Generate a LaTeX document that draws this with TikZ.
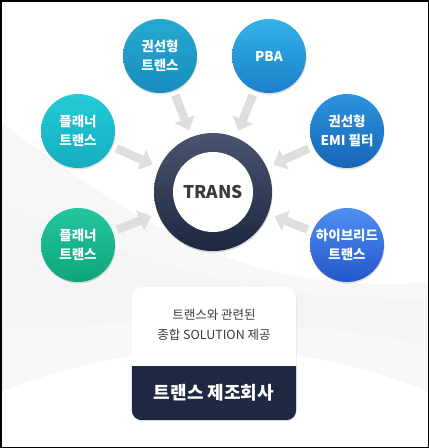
\documentclass[tikz,border=0pt]{standalone}
\usepackage{fontspec}
\setmainfont{Noto Sans CJK KR}
\usetikzlibrary{arrows.meta,shadows}

\definecolor{ringtop}{HTML}{4A5470}
\definecolor{ringbot}{HTML}{1E2740}
\definecolor{navy}{HTML}{1E2842}
\definecolor{textgray}{HTML}{3A3A3A}

\tikzstyle{ball} = [circle, minimum size=74pt, inner sep=0pt, text=white,
    align=center, font=\bfseries\fontsize{13.5}{19}\selectfont,
    drop shadow={opacity=0.25, shadow xshift=0.6pt, shadow yshift=-1.6pt}]
\tikzstyle{feed} = [draw=black!13, line width=8.5pt,
    -{Triangle[length=12pt,width=21pt]}, shorten <=5pt, shorten >=7pt]

\begin{document}
\begin{tikzpicture}[x=1pt,y=-1pt]
  \useasboundingbox (0,0) rectangle (429,448);

  % background swooshes
  \fill[black!3] (0,122) .. controls (110,200) and (230,300) .. (429,282)
      -- (429,392) .. controls (300,340) and (160,330) .. (0,392) -- cycle;
  \fill[black!4] (0,200) .. controls (120,260) and (260,300) .. (429,300)
      -- (429,345) .. controls (280,315) and (150,320) .. (0,330) -- cycle;

  % center ring
  \node[circle, minimum size=118pt, inner sep=0pt, top color=ringtop, bottom color=ringbot,
        drop shadow={opacity=0.3, shadow xshift=0.6pt, shadow yshift=-1.6pt}]
        (ring) at (213,192) {};
  \node[circle, fill=white, minimum size=80pt, inner sep=0pt, text=textgray,
        font=\bfseries\fontsize{17.5}{20}\selectfont] (trans) at (213,192) {TRANS};

  % outer items
  \node[ball, top color={rgb,255:red,37;green,169;blue,207}, bottom color={rgb,255:red,26;green,141;blue,191}]
        (coil)    at (160,56)  {권선형\\트랜스};
  \node[ball, top color={rgb,255:red,51;green,179;blue,232}, bottom color={rgb,255:red,28;green,127;blue,203}]
        (pba)     at (269,56)  {PBA};
  \node[ball, top color={rgb,255:red,34;green,203;blue,214}, bottom color={rgb,255:red,20;green,173;blue,192}]
        (planarA) at (78,131)  {플래너\\트랜스};
  \node[ball, top color={rgb,255:red,45;green,147;blue,221}, bottom color={rgb,255:red,21;green,101;blue,184}]
        (emi)     at (347,131) {권선형\\EMI 필터};
  \node[ball, top color={rgb,255:red,34;green,198;blue,160}, bottom color={rgb,255:red,15;green,165;blue,124}]
        (planarB) at (78,245)  {플래너\\트랜스};
  \node[ball, top color={rgb,255:red,79;green,143;blue,242}, bottom color={rgb,255:red,36;green,86;blue,201}]
        (hybrid)  at (347,245) {하이브리드\\트랜스};

  \path (coil)    edge[feed] (ring)
        (pba)     edge[feed] (ring)
        (planarA) edge[feed] (ring)
        (emi)     edge[feed] (ring)
        (planarB) edge[feed] (ring)
        (hybrid)  edge[feed] (ring);

  % bottom panel
  \node[rectangle, rounded corners=10pt, fill=white, minimum width=164pt, minimum height=133pt,
        drop shadow={opacity=0.2, shadow xshift=0.5pt, shadow yshift=-1.2pt}]
        (box) at (214,353.5) {};
  \begin{scope}
    \clip (box.west |- 0,366) rectangle (box.south east);
    \fill[navy, rounded corners=10pt] (box.north west) rectangle (box.south east);
  \end{scope}
  \node[text=textgray, align=center, font=\fontsize{12.5}{20}\selectfont]
        (solution) at (214,325) {트랜스와 관련된\\종합 SOLUTION 제공};
  \node[text=white, font=\bfseries\fontsize{18}{20}\selectfont]
        (maker) at (214,393) {트랜스 제조회사};

  % frame
  \draw[line width=1.5pt] (0.75,0.75) rectangle (428.25,447.25);
\end{tikzpicture}
\end{document}
